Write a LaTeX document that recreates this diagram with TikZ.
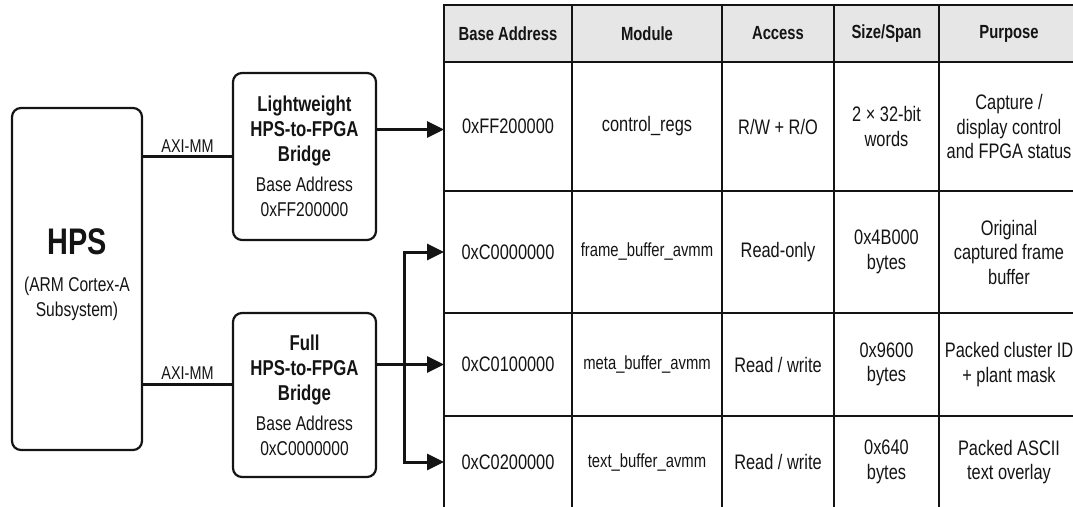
\documentclass[tikz,border=0pt]{standalone}
\usepackage{fontspec}
\setmainfont[FakeStretch=0.78]{Liberation Sans}
\usetikzlibrary{arrows.meta}

% one table cell: name, x1, y1, x2, y2, style, text
\newcommand\tcell[7]{%
  \node[#6, minimum width={(#4)-(#2)}, minimum height={(#5)-(#3)}]
    (#1) at ({((#2)+(#4))/2},{((#3)+(#5))/2}) {#7};}
\newcommand\bt[1]{{\fontsize{21.5}{26}\selectfont\bfseries #1}}

\definecolor{ink}{HTML}{141414}
\definecolor{hdrfill}{HTML}{E6E6E6}

\begin{document}
\begin{tikzpicture}[x=1pt,y=-1pt,
  every node/.style={text=ink},
  box/.style={draw=ink, line width=2.2pt, rounded corners=9pt, inner sep=0pt,
    outer sep=0pt, align=center},
  cell/.style={draw=ink, line width=1.8pt, inner sep=0pt, outer sep=0pt,
    align=center, font=\fontsize{21}{24.5}\selectfont},
  hdr/.style={cell, fill=hdrfill, font=\fontsize{19}{22}\selectfont\bfseries},
  small/.style={cell, font=\fontsize{19}{22}\selectfont},
  wire/.style={draw=ink, line width=3pt},
  arr/.style={wire, -{Triangle[length=17pt,width=16pt]}},
  lbl/.style={font=\fontsize{18.5}{20}\selectfont, inner sep=3pt}]

\useasboundingbox (0,0) rectangle (1073,506);
\clip (0,0) rectangle (1073,506);

% processor block
\node[box, minimum width=130, minimum height=342, font=\fontsize{20}{25}\selectfont]
  (hps) at (77,279)
  {{\fontsize{37}{40}\selectfont\bfseries HPS}\\[12pt]
   (ARM Cortex-A\\Subsystem)\\[-12pt]};

% bridges
\node[box, minimum width=143, minimum height=167, font=\fontsize{20}{25}\selectfont]
  (lw) at (304.5,156.5)
  {\bt{Lightweight}\\\bt{HPS-to-FPGA}\\\bt{Bridge}\\[5pt]Base Address\\0xFF200000};
\node[box, minimum width=143, minimum height=164, font=\fontsize{20}{25}\selectfont]
  (full) at (304.5,395)
  {\bt{Full}\\\bt{HPS-to-FPGA}\\\bt{Bridge}\\[5pt]Base Address\\0xC0000000};

% address map table
\tcell{h1}{444}{5}{572}{62}{hdr}{Base Address}
\tcell{h2}{572}{5}{722}{62}{hdr}{Module}
\tcell{h3}{722}{5}{834}{62}{hdr}{Access}
\tcell{h4}{834}{5}{939}{62}{hdr}{Size/Span}
\tcell{h5}{939}{5}{1079}{62}{hdr}{Purpose}

\tcell{c11}{444}{62}{572}{191}{cell}{0xFF200000}
\tcell{c12}{572}{62}{722}{191}{cell}{control\_regs}
\tcell{c13}{722}{62}{834}{191}{cell}{R/W + R/O}
\tcell{c14}{834}{62}{939}{191}{cell}{2 × 32-bit\\words}
\tcell{c15}{939}{62}{1079}{191}{cell}{Capture /\\display control\\and FPGA status}

\tcell{c21}{444}{191}{572}{313}{cell}{0xC0000000}
\tcell{c22}{572}{191}{722}{313}{small}{frame\_buffer\_avmm}
\tcell{c23}{722}{191}{834}{313}{cell}{Read-only}
\tcell{c24}{834}{191}{939}{313}{cell}{0x4B000\\bytes}
\tcell{c25}{939}{191}{1079}{313}{cell}{Original\\captured frame\\buffer}

\tcell{c31}{444}{313}{572}{416}{cell}{0xC0100000}
\tcell{c32}{572}{313}{722}{416}{small}{meta\_buffer\_avmm}
\tcell{c33}{722}{313}{834}{416}{cell}{Read / write}
\tcell{c34}{834}{313}{939}{416}{cell}{0x9600\\bytes}
\tcell{c35}{939}{313}{1079}{416}{cell}{Packed cluster ID\\+ plant mask}

\tcell{c41}{444}{416}{572}{508}{cell}{0xC0200000}
\tcell{c42}{572}{416}{722}{508}{small}{text\_buffer\_avmm}
\tcell{c43}{722}{416}{834}{508}{cell}{Read / write}
\tcell{c44}{834}{416}{939}{508}{cell}{0x640\\bytes}
\tcell{c45}{939}{416}{1079}{508}{cell}{Packed ASCII\\text overlay}

% AXI master links
\draw[wire] (hps.east |- lw.west) -- node[above, lbl] {AXI-MM} (lw.west);
\draw[wire] ([yshift=11pt]full.west -| hps.east) -- node[above, lbl] {AXI-MM}
  ([yshift=11pt]full.west);

% bridge outputs into the map
\coordinate (tk) at (404,0);
\draw[arr] ([yshift=-3pt]lw.east |- c11.west) -- ([yshift=-3pt]c11.west);
\draw[arr] (full.east |- c31.west) -- (c31.west);
\draw[wire, {Triangle[length=17pt,width=16pt]}-{Triangle[length=17pt,width=16pt]}]
  (c21.west) -- (tk |- c21.west) -- (tk |- c41.west) -- (c41.west);
\end{tikzpicture}
\end{document}
